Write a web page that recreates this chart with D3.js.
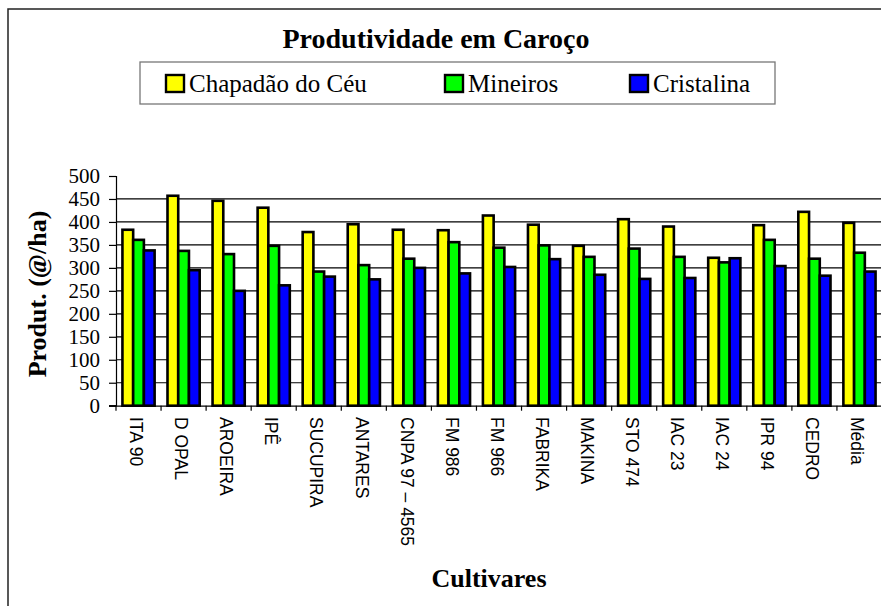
<!DOCTYPE html>
<html>
<head>
<meta charset="utf-8">
<script src="https://cdn.jsdelivr.net/npm/d3@7"></script>
<style>
  body { margin: 0; background: #fff; }
  svg { display: block; }
  .serif { font-family: "Liberation Serif", "Times New Roman", serif; }
  .sans { font-family: "Liberation Sans", Arial, sans-serif; }
</style>
</head>
<body>
<svg id="chart" width="881" height="606"></svg>
<script>
var cultivares = ['ITA 90', 'D OPAL', 'AROEIRA', 'IPÊ', 'SUCUPIRA', 'ANTARES', 'CNPA 97 – 4565', 'FM 986',
  'FM 966', 'FABRIKA', 'MAKINA', 'STO 474', 'IAC 23', 'IAC 24', 'IPR 94', 'CEDRO', 'Média'];
var chapadao   = [383, 457, 446, 431, 378, 395, 383, 382, 414, 394, 348, 406, 390, 322, 393, 422, 398];
var mineiros   = [361, 337, 330, 348, 292, 306, 320, 356, 344, 349, 324, 342, 324, 312, 361, 320, 333];
var cristalina = [338, 295, 250, 262, 281, 275, 300, 288, 302, 319, 285, 276, 278, 321, 304, 283, 292];
var seriesNames = ['Chapadão do Céu', 'Mineiros', 'Cristalina'];
var yTicks = [0, 50, 100, 150, 200, 250, 300, 350, 400, 450, 500];

var series = [chapadao, mineiros, cristalina];
var colors = ['#ffff00', '#00ff00', '#0000ff'];

var svg = d3.select('#chart');
var frame = { left: 116, right: 882, top: 176, bottom: 405.7 };

// outer chart border (runs past the window on right and bottom)
svg.append('rect').attr('x', 8).attr('y', 9).attr('width', 900).attr('height', 700)
  .attr('fill', 'none').attr('stroke', '#222').attr('stroke-width', 1.5);

var x0 = d3.scaleBand().domain(cultivares).range([frame.left, frame.right]).padding(0);
var x1 = d3.scaleBand().domain(seriesNames).range([0, x0.bandwidth()]).paddingInner(0).paddingOuter(0.6);
var y = d3.scaleLinear().domain([0, 500]).range([frame.bottom, frame.top]);

// gridlines
svg.append('g').selectAll('line').data(yTicks.filter(d => d > 0 && d < 500)).join('line')
  .attr('x1', frame.left).attr('x2', frame.right)
  .attr('y1', d => y(d)).attr('y2', d => y(d))
  .attr('stroke', '#000').attr('stroke-width', 1.2);

// bars
var groups = svg.append('g').selectAll('g').data(cultivares).join('g')
  .attr('transform', d => 'translate(' + x0(d) + ',0)');
groups.selectAll('rect').data((d, i) => seriesNames.map((s, k) => ({ s: s, k: k, v: series[k][i] }))).join('rect')
  .attr('x', d => x1(d.s))
  .attr('y', d => y(d.v))
  .attr('width', x1.bandwidth())
  .attr('height', d => frame.bottom - y(d.v))
  .attr('fill', d => colors[d.k])
  .attr('stroke', '#000').attr('stroke-width', 2.6);

// y axis
var yAxis = svg.append('g').attr('transform', 'translate(' + frame.left + ',0)')
  .call(d3.axisLeft(y).tickValues(yTicks).tickSize(7).tickPadding(9));
yAxis.select('.domain').attr('stroke', '#000').attr('stroke-width', 1.2);
yAxis.selectAll('.tick line').attr('stroke', '#000').attr('stroke-width', 1.2);
yAxis.selectAll('.tick text').attr('class', 'serif').attr('font-size', 21).attr('fill', '#000');

// x axis
var xAxis = svg.append('g').attr('transform', 'translate(0,' + frame.bottom + ')')
  .call(d3.axisBottom(x0).tickSize(0).tickFormat(''));
xAxis.select('.domain').attr('stroke', '#000').attr('stroke-width', 1.2);
svg.append('line').attr('x1', frame.left - 7).attr('x2', frame.left)
  .attr('y1', frame.bottom).attr('y2', frame.bottom).attr('stroke', '#000').attr('stroke-width', 1.2);
svg.append('g').selectAll('line').data(cultivares).join('line')
  .attr('x1', d => x0(d)).attr('x2', d => x0(d))
  .attr('y1', frame.bottom).attr('y2', frame.bottom + 5)
  .attr('stroke', '#000').attr('stroke-width', 1.2);
svg.append('g').selectAll('text').data(cultivares).join('text')
  .attr('class', 'sans')
  .attr('transform', d => 'translate(' + (x0(d) + x0.bandwidth() / 2 - 2) + ',417) rotate(90)')
  .attr('dy', '0.36em')
  .attr('font-size', 17.5)
  .attr('fill', '#000')
  .text(d => d);

// titles
svg.append('text').attr('class', 'serif').attr('x', 436).attr('y', 48)
  .attr('text-anchor', 'middle').attr('font-size', 28).attr('font-weight', 'bold')
  .text('Produtividade em Caroço');
svg.append('text').attr('class', 'serif').attr('x', 489).attr('y', 587)
  .attr('text-anchor', 'middle').attr('font-size', 26).attr('font-weight', 'bold')
  .text('Cultivares');
svg.append('text').attr('class', 'serif')
  .attr('transform', 'translate(46,294) rotate(-90)')
  .attr('text-anchor', 'middle').attr('font-size', 26).attr('font-weight', 'bold')
  .text('Produt. (@/ha)');

// legend
var legend = svg.append('g');
legend.append('rect').attr('x', 140).attr('y', 62).attr('width', 635).attr('height', 42)
  .attr('fill', '#fff').attr('stroke', '#777').attr('stroke-width', 1.3);
var legendX = [166, 445, 630];
var items = legend.selectAll('g').data(seriesNames).join('g')
  .attr('transform', (d, i) => 'translate(' + legendX[i] + ',75)');
items.append('rect').attr('width', 18).attr('height', 17)
  .attr('fill', (d, i) => colors[i]).attr('stroke', '#000').attr('stroke-width', 2.4);
items.append('text').attr('class', 'serif').attr('x', 23).attr('y', 17)
  .attr('font-size', 25).attr('fill', '#000').text(d => d);
</script>
</body>
</html>
